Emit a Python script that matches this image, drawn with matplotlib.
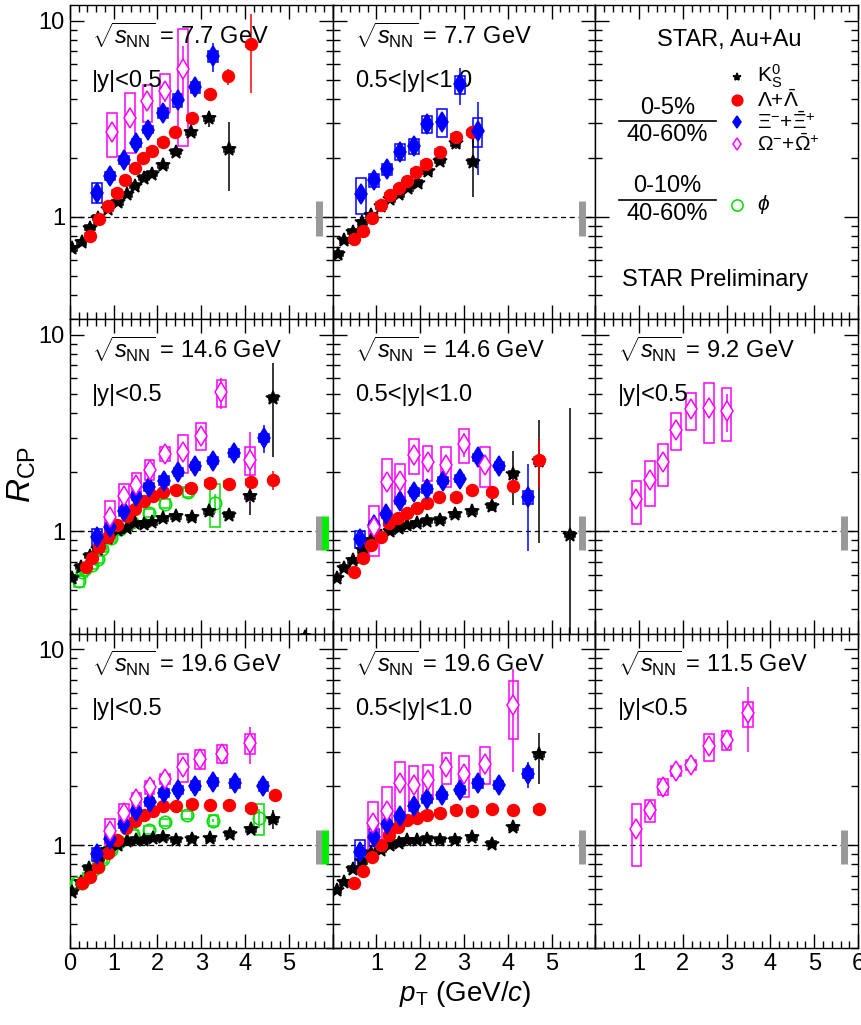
import matplotlib
matplotlib.use('Agg')
import matplotlib.pyplot as plt
from matplotlib.patches import Rectangle
from matplotlib.ticker import FixedLocator, FuncFormatter, MultipleLocator, NullFormatter
import numpy as np

plt.rcParams['font.family'] = ['Liberation Sans', 'DejaVu Sans']
plt.rcParams['mathtext.fontset'] = 'custom'
plt.rcParams['mathtext.rm'] = 'Liberation Sans'
plt.rcParams['mathtext.it'] = 'Liberation Sans:italic'
plt.rcParams['mathtext.bf'] = 'Liberation Sans:bold'

# ---------------- data ----------------
# 7.7 GeV |y|<0.5
k0_77a_pt = [0.05, 0.27, 0.46, 0.65, 0.88, 1.10, 1.31, 1.48, 1.69, 1.88, 2.13, 2.42, 2.77, 3.18, 3.64]
k0_77a_r = [0.69, 0.74, 0.88, 0.99, 1.10, 1.19, 1.30, 1.44, 1.58, 1.66, 1.83, 2.15, 2.70, 3.18, 2.21]
k0_77a_e = [0, 0, 0, 0, 0, 0, 0, 0, 0, 0, 0, 0, 0, 0.3, 0.85]
la_77a_pt = [0.46, 0.67, 0.87, 1.08, 1.27, 1.48, 1.67, 1.88, 2.13, 2.41, 2.78, 3.19, 3.62, 4.14]
la_77a_r = [0.80, 0.97, 1.13, 1.33, 1.55, 1.77, 1.99, 2.17, 2.42, 2.70, 3.19, 4.21, 5.20, 7.56]
la_77a_e = [0, 0, 0, 0, 0, 0, 0, 0, 0, 0, 0, 0.1, 0.5, 3.3]
xi_77a_pt = [0.62, 0.92, 1.23, 1.52, 1.79, 2.13, 2.46, 2.87, 3.27]
xi_77a_r = [1.33, 1.62, 1.95, 2.38, 2.78, 3.39, 3.95, 4.59, 6.59]
xi_77a_e = [0, 0, 0, 0, 0, 0.1, 0.1, 0.2, 1.1]
xi_77a_s = [0.15, 0.08, 0.1, 0.12, 0.12, 0.2, 0.3, 0.3, 0.45]
om_77a_pt = [0.96, 1.37, 1.77, 2.18, 2.58]
om_77a_r = [2.70, 3.19, 3.89, 4.37, 5.70]
om_77a_e = [0.2, 0.3, 0.35, 0.5, 1.7]
om_77a_s = [0.68, 1.08, 0.83, 0.95, 3.4]

# 7.7 GeV 0.5<|y|<1.0
k0_77b_pt = [0.12, 0.27, 0.46, 0.68, 0.88, 1.10, 1.32, 1.52, 1.73, 1.94, 2.17, 2.46, 2.81, 3.21]
k0_77b_r = [0.65, 0.76, 0.84, 0.94, 1.02, 1.13, 1.23, 1.30, 1.40, 1.49, 1.71, 1.93, 2.38, 1.91]
k0_77b_e = [0, 0, 0, 0, 0, 0, 0, 0, 0, 0, 0, 0, 0.15, 0.65]
la_77b_pt = [0.50, 0.69, 0.90, 1.10, 1.31, 1.52, 1.71, 1.91, 2.13, 2.46, 2.81, 3.19]
la_77b_r = [0.77, 0.85, 0.99, 1.15, 1.29, 1.40, 1.52, 1.70, 1.87, 2.15, 2.56, 2.70]
la_77b_e = [0, 0, 0, 0, 0, 0, 0, 0, 0, 0, 0.05, 0.1]
xi_77b_pt = [0.65, 0.95, 1.25, 1.54, 1.86, 2.15, 2.50, 2.91, 3.31]
xi_77b_r = [1.31, 1.54, 1.75, 2.15, 2.29, 2.98, 3.06, 4.73, 2.73]
xi_77b_e = [0, 0, 0, 0, 0, 0, 0, 1.0, 1.1]
xi_77b_s = [0.27, 0.12, 0.11, 0.2, 0.2, 0.3, 0.5, 0.5, 0.45]

# 14.6 GeV |y|<0.5
k0_146a_pt = [0.05, 0.25, 0.46, 0.65, 0.88, 1.10, 1.31, 1.48, 1.69, 1.88, 2.13, 2.42, 2.78, 3.18, 3.64, 4.12, 4.65, 5.38]
k0_146a_r = [0.58, 0.66, 0.75, 0.81, 0.92, 1.01, 1.04, 1.10, 1.09, 1.11, 1.16, 1.19, 1.18, 1.26, 1.21, 1.51, 4.78, 0.29]
k0_146a_e = [0, 0, 0, 0, 0, 0, 0, 0, 0, 0, 0, 0, 0, 0.06, 0.05, 0.3, 2.4, 0.02]
la_146a_pt = [0.38, 0.50, 0.67, 0.88, 1.08, 1.31, 1.48, 1.69, 1.90, 2.13, 2.42, 2.77, 3.19, 3.64, 4.13, 4.65]
la_146a_r = [0.66, 0.73, 0.83, 0.93, 1.07, 1.20, 1.30, 1.43, 1.51, 1.58, 1.63, 1.66, 1.76, 1.74, 1.78, 1.83]
la_146a_e = [0, 0, 0, 0, 0, 0, 0, 0, 0, 0, 0, 0, 0, 0, 0.05, 0.2]
xi_146a_pt = [0.62, 0.92, 1.23, 1.52, 1.81, 2.15, 2.48, 2.87, 3.27, 3.75, 4.44]
xi_146a_r = [0.93, 1.05, 1.26, 1.51, 1.68, 1.81, 2.00, 2.16, 2.29, 2.51, 2.99]
xi_146a_e = [0, 0, 0, 0, 0, 0, 0, 0.05, 0.08, 0.12, 0.5]
xi_146a_s = [0.09, 0.05, 0.06, 0.07, 0.08, 0.09, 0.1, 0.1, 0.1, 0.12, 0.15]
om_146a_pt = [0.92, 1.23, 1.52, 1.82, 2.18, 2.58, 3.00, 3.46, 4.12]
om_146a_r = [1.18, 1.51, 1.71, 2.06, 2.48, 2.53, 3.07, 5.10, 2.31]
om_146a_e = [0.05, 0.1, 0.1, 0.1, 0.1, 0.15, 0.25, 0.9, 0.9]
om_146a_s = [0.25, 0.23, 0.27, 0.24, 0.2, 0.56, 0.47, 0.8, 0.37]
phi_146a_pt = [0.21, 0.28, 0.35, 0.50, 0.64, 0.73, 0.95, 1.15, 1.41, 1.81, 2.18, 2.69, 3.31]
phi_146a_r = [0.56, 0.62, 0.64, 0.67, 0.72, 0.81, 0.92, 1.03, 1.11, 1.24, 1.38, 1.58, 1.39]
phi_146a_e = [0, 0, 0, 0, 0, 0, 0, 0, 0, 0, 0, 0.03, 0.15]
phi_146a_s = [0.04, 0.03, 0.03, 0.03, 0.03, 0.03, 0.04, 0.04, 0.05, 0.06, 0.07, 0.09, 0.34]

# 14.6 GeV 0.5<|y|<1.0
k0_146b_pt = [0.09, 0.27, 0.46, 0.69, 0.88, 1.10, 1.31, 1.52, 1.71, 1.92, 2.15, 2.45, 2.79, 3.19, 3.63, 4.13, 4.71, 5.42]
k0_146b_r = [0.58, 0.65, 0.71, 0.80, 0.90, 0.95, 1.00, 1.04, 1.07, 1.10, 1.13, 1.14, 1.22, 1.26, 1.35, 1.96, 2.27, 0.96]
k0_146b_e = [0, 0, 0, 0, 0, 0, 0, 0, 0, 0, 0, 0, 0.04, 0.05, 0.08, 0.6, 1.4, 3.3]
la_146b_pt = [0.48, 0.69, 0.88, 1.10, 1.29, 1.50, 1.69, 1.92, 2.15, 2.44, 2.81, 3.19, 3.64, 4.13, 4.71]
la_146b_r = [0.62, 0.73, 0.85, 0.93, 1.10, 1.17, 1.24, 1.31, 1.39, 1.49, 1.49, 1.62, 1.58, 1.70, 2.31]
la_146b_e = [0, 0, 0, 0, 0, 0, 0, 0, 0, 0, 0, 0, 0.03, 0.1, 0.65]
xi_146b_pt = [0.63, 0.94, 1.23, 1.54, 1.87, 2.15, 2.52, 2.90, 3.31, 3.81, 4.46]
xi_146b_r = [0.91, 1.07, 1.22, 1.43, 1.58, 1.64, 1.81, 1.85, 2.38, 2.14, 1.49]
xi_146b_e = [0, 0, 0, 0.05, 0.05, 0.05, 0.08, 0.08, 0.08, 0.2, 0.7]
xi_146b_s = [0.09, 0.05, 0.05, 0.06, 0.07, 0.07, 0.08, 0.08, 0.1, 0.1, 0.12]
om_146b_pt = [0.95, 1.25, 1.54, 1.86, 2.17, 2.59, 3.00, 3.48]
om_146b_r = [1.05, 1.78, 1.81, 2.45, 2.26, 2.18, 2.78, 2.18]
om_146b_e = [0.1, 0.1, 0.1, 0.1, 0.15, 0.15, 0.4, 0.2]
om_146b_s = [0.3, 0.55, 0.4, 0.5, 0.45, 0.5, 0.55, 0.5]

# 19.6 GeV |y|<0.5
k0_196a_pt = [0.05, 0.25, 0.44, 0.67, 0.88, 1.10, 1.31, 1.50, 1.69, 1.90, 2.13, 2.42, 2.78, 3.21, 3.65, 4.14, 4.65]
k0_196a_r = [0.58, 0.65, 0.77, 0.86, 0.95, 1.01, 1.05, 1.07, 1.07, 1.09, 1.10, 1.07, 1.08, 1.09, 1.15, 1.21, 1.36]
k0_196a_e = [0, 0, 0, 0, 0, 0, 0, 0, 0, 0, 0, 0, 0, 0, 0.02, 0.04, 0.15]
la_196a_pt = [0.28, 0.46, 0.65, 0.87, 1.08, 1.29, 1.48, 1.69, 1.90, 2.13, 2.42, 2.78, 3.21, 3.64, 4.13, 4.69]
la_196a_r = [0.64, 0.69, 0.78, 0.91, 1.07, 1.23, 1.34, 1.43, 1.49, 1.58, 1.58, 1.63, 1.60, 1.60, 1.55, 1.80]
la_196a_e = [0, 0, 0, 0, 0, 0, 0, 0, 0, 0, 0, 0, 0, 0, 0.03, 0.05]
xi_196a_pt = [0.62, 0.92, 1.23, 1.52, 1.82, 2.15, 2.48, 2.87, 3.28, 3.77, 4.42]
xi_196a_r = [0.90, 1.08, 1.28, 1.49, 1.66, 1.85, 1.92, 2.02, 2.10, 2.07, 2.00]
xi_196a_e = [0, 0, 0, 0, 0, 0.05, 0.05, 0.05, 0.06, 0.06, 0.1]
xi_196a_s = [0.07, 0.05, 0.06, 0.07, 0.08, 0.09, 0.09, 0.1, 0.1, 0.1, 0.1]
om_196a_pt = [0.92, 1.23, 1.52, 1.82, 2.18, 2.58, 2.98, 3.48, 4.12]
om_196a_r = [1.18, 1.47, 1.72, 1.98, 2.18, 2.51, 2.76, 2.94, 3.31]
om_196a_e = [0.1, 0.05, 0.05, 0.05, 0.05, 0.1, 0.15, 0.2, 0.7]
om_196a_s = [0.18, 0.15, 0.14, 0.15, 0.13, 0.4, 0.3, 0.3, 0.4]
phi_196a_pt = [0.15, 0.27, 0.41, 0.54, 0.64, 0.75, 0.95, 1.12, 1.44, 1.81, 2.18, 2.67, 3.28, 4.32]
phi_196a_r = [0.64, 0.64, 0.69, 0.75, 0.78, 0.85, 0.95, 1.04, 1.15, 1.20, 1.31, 1.43, 1.34, 1.38]
phi_196a_e = [0, 0, 0, 0, 0, 0, 0, 0, 0, 0, 0, 0, 0.03, 0.15]
phi_196a_s = [0.03, 0.03, 0.03, 0.03, 0.03, 0.04, 0.04, 0.04, 0.05, 0.05, 0.06, 0.07, 0.09, 0.25]

# 19.6 GeV 0.5<|y|<1.0
k0_196b_pt = [0.09, 0.27, 0.46, 0.68, 0.88, 1.10, 1.31, 1.52, 1.71, 1.92, 2.15, 2.45, 2.79, 3.19, 3.63, 4.13, 4.71]
k0_196b_r = [0.59, 0.65, 0.76, 0.83, 0.92, 0.95, 1.01, 1.03, 1.06, 1.06, 1.08, 1.07, 1.07, 1.10, 1.02, 1.24, 2.91]
k0_196b_e = [0, 0, 0, 0, 0, 0, 0, 0, 0, 0, 0, 0, 0, 0.02, 0.03, 0.06, 0.85]
la_196b_pt = [0.48, 0.69, 0.90, 1.10, 1.28, 1.50, 1.71, 1.92, 2.15, 2.45, 2.81, 3.19, 3.64, 4.13, 4.71]
la_196b_r = [0.64, 0.74, 0.87, 1.00, 1.13, 1.24, 1.35, 1.38, 1.43, 1.47, 1.52, 1.50, 1.53, 1.52, 1.53]
la_196b_e = [0, 0, 0, 0, 0, 0, 0, 0, 0, 0, 0, 0, 0, 0.02, 0.05]
xi_196b_pt = [0.63, 0.94, 1.25, 1.54, 1.85, 2.15, 2.50, 2.92, 3.32, 3.79, 4.46]
xi_196b_r = [0.93, 1.10, 1.28, 1.41, 1.58, 1.73, 1.80, 1.92, 2.07, 2.04, 2.32]
xi_196b_e = [0, 0, 0, 0, 0, 0.05, 0.05, 0.05, 0.06, 0.08, 0.35]
xi_196b_s = [0.14, 0.11, 0.06, 0.07, 0.08, 0.08, 0.08, 0.09, 0.1, 0.1, 0.12]
om_196b_pt = [0.92, 1.25, 1.54, 1.85, 2.18, 2.60, 3.00, 3.48, 4.13]
om_196b_r = [1.30, 1.49, 2.07, 2.04, 2.15, 2.51, 2.32, 2.61, 5.17]
om_196b_e = [0.15, 0.1, 0.1, 0.1, 0.1, 0.15, 0.15, 0.3, 2.8]
om_196b_s = [0.36, 0.5, 0.6, 0.5, 0.43, 0.45, 0.55, 0.55, 1.7]

# 9.2 GeV |y|<0.5
om_92_pt = [0.94, 1.25, 1.55, 1.85, 2.19, 2.59, 3.00]
om_92_r = [1.45, 1.82, 2.24, 3.29, 4.18, 4.26, 4.12]
om_92_e = [0.1, 0.1, 0.1, 0.15, 0.2, 0.5, 0.9]
om_92_s = [0.36, 0.47, 0.54, 0.7, 0.89, 1.43, 1.23]

# 11.5 GeV |y|<0.5
om_115_pt = [0.94, 1.25, 1.55, 1.85, 2.19, 2.59, 3.00, 3.48]
om_115_r = [1.21, 1.51, 1.99, 2.40, 2.58, 3.21, 3.45, 4.71]
om_115_e = [0.05, 0.05, 0.05, 0.05, 0.05, 0.1, 0.2, 1.7]
om_115_s = [0.42, 0.2, 0.18, 0.15, 0.15, 0.5, 0.4, 0.7]

k0_sys = 0.03   # relative
la_sys = 0.03   # relative
norm_unc = 0.2  # Ncoll normalisation band

# ---------------- styles ----------------
STY = {
    'k0': dict(marker='*', color='black', ms=10, mfc='black'),
    'la': dict(marker='o', color='red', ms=8.5, mfc='red'),
    'xi': dict(marker='d', color='blue', ms=10, mfc='blue'),
    'om': dict(marker='d', color='#ff00ff', ms=10, mfc='white'),
    'phi': dict(marker='o', color='#00e000', ms=9, mfc='none'),
}


def draw(ax, kind, pt, r, e, s, rel=False, hw=0.11):
    st = STY[kind]
    pt = np.asarray(pt)
    r = np.asarray(r)
    s = np.asarray(s) * (r if rel else 1.0) * np.ones_like(r)
    for x, y, d in zip(pt, r, s):
        ax.add_patch(Rectangle((x - hw, y - d), 2 * hw, 2 * d, fill=False,
                               ec=st['color'], lw=1.1, zorder=2))
    ax.errorbar(pt, r, yerr=e, fmt='none', ecolor=st['color'], elinewidth=1.1,
                capsize=0, zorder=3)
    ax.plot(pt, r, ls='none', marker=st['marker'], color=st['color'],
            mfc=st['mfc'], mec=st['color'], ms=st['ms'], mew=1.1, zorder=4)


fig, axes = plt.subplots(3, 3, figsize=(8.62, 10.25), dpi=100)
fig.subplots_adjust(left=0.081, right=0.9954, top=0.995, bottom=0.0751, wspace=0, hspace=0)

for i in range(3):
    for j in range(3):
        ax = axes[i, j]
        ax.set_yscale('log')
        ax.set_xlim(0, 6)
        ax.set_ylim(0.3, 12)
        if not (i == 0 and j == 2):
            ax.axhline(1, color='black', lw=0.9, ls=(0, (4, 3)), zorder=1)
        ax.yaxis.set_major_locator(FixedLocator([1, 10]))
        ax.yaxis.set_minor_locator(FixedLocator([0.3, 0.4, 0.5, 0.6, 0.7, 0.8, 0.9,
                                                 2, 3, 4, 5, 6, 7, 8, 9]))
        ax.yaxis.set_minor_formatter(NullFormatter())
        ax.xaxis.set_major_locator(MultipleLocator(1))
        ax.xaxis.set_minor_locator(MultipleLocator(0.2))
        ax.tick_params(which='both', direction='in', top=True, right=True, width=1,
                       labelsize=17)
        ax.tick_params(which='major', length=10)
        ax.tick_params(which='minor', length=5)
        for sp in ax.spines.values():
            sp.set_linewidth(1)

        def fx(v, p, j=j):
            v = int(round(v))
            if v == 0 and j > 0:
                return ''
            if v == 6 and j < 2:
                return ''
            return str(v)
        ax.xaxis.set_major_formatter(FuncFormatter(fx))
        ax.yaxis.set_major_formatter(FuncFormatter(lambda v, p: '%g' % v))
        if i < 2:
            ax.tick_params(labelbottom=False)
        if j > 0:
            ax.tick_params(labelleft=False)


def labels(ax, energy, rap):
    ax.text(0.085, 0.905, r'$\sqrt{s_{\rm NN}}$ = %s GeV' % energy, fontsize=17,
            transform=ax.transAxes, ha='left', va='center')
    ax.text(0.085, 0.76, rap, fontsize=17, transform=ax.transAxes, ha='left', va='center')


def norm_bar(ax, with_phi=False):
    ax.plot([5.69, 5.69], [1 - norm_unc, 1 + norm_unc], color='#999999', lw=5,
            solid_capstyle='butt', zorder=5)
    if with_phi:
        ax.plot([5.82, 5.82], [1 - norm_unc, 1 + norm_unc], color='#00ee00', lw=5,
                solid_capstyle='butt', zorder=5)


# row 1
ax = axes[0, 0]
draw(ax, 'k0', k0_77a_pt, k0_77a_r, k0_77a_e, k0_sys, rel=True)
draw(ax, 'la', la_77a_pt, la_77a_r, la_77a_e, la_sys, rel=True)
draw(ax, 'xi', xi_77a_pt, xi_77a_r, xi_77a_e, xi_77a_s)
draw(ax, 'om', om_77a_pt, om_77a_r, om_77a_e, om_77a_s)
labels(ax, '7.7', '|y|<0.5')
norm_bar(ax)

ax = axes[0, 1]
draw(ax, 'k0', k0_77b_pt, k0_77b_r, k0_77b_e, k0_sys, rel=True)
draw(ax, 'la', la_77b_pt, la_77b_r, la_77b_e, la_sys, rel=True)
draw(ax, 'xi', xi_77b_pt, xi_77b_r, xi_77b_e, xi_77b_s)
labels(ax, '7.7', '0.5<|y|<1.0')
norm_bar(ax)

# legend panel
ax = axes[0, 2]
T = ax.transAxes
ax.text(0.51, 0.889, 'STAR, Au+Au', fontsize=17, transform=T, ha='center', va='center')
leg = [('k0', r'K$^0_{\rm S}$', 0.772), ('la', r'$\Lambda$+$\bar{\Lambda}$', 0.697),
       ('xi', r'$\Xi^{-}$+$\bar{\Xi}^{+}$', 0.627), ('om', r'$\Omega^{-}$+$\bar{\Omega}^{+}$', 0.557),
       ('phi', r'$\phi$', 0.365)]
for kind, lab, yy in leg:
    st = STY[kind]
    ms = st['ms'] * (0.6 if kind in ('k0', 'xi', 'om') else 0.9)
    ax.plot([0.538], [yy], transform=T, ls='none', marker=st['marker'], color=st['color'],
            mfc=st['mfc'], mec=st['color'], ms=ms, mew=1.1, clip_on=False)
    ax.text(0.615, yy, lab, fontsize=15, transform=T, ha='left', va='center')
for yc, num in [(0.632, '0-5%'), (0.381, '0-10%')]:
    ax.plot([0.09, 0.46], [yc, yc], transform=T, color='black', lw=1.2)
    ax.text(0.275, yc + 0.042, num, fontsize=17, transform=T, ha='center', va='center')
    ax.text(0.275, yc - 0.045, '40-60%', fontsize=17, transform=T, ha='center', va='center')
ax.text(0.454, 0.127, 'STAR Preliminary', fontsize=17, transform=T, ha='center', va='center')

# row 2
ax = axes[1, 0]
draw(ax, 'phi', phi_146a_pt, phi_146a_r, phi_146a_e, phi_146a_s)
draw(ax, 'k0', k0_146a_pt, k0_146a_r, k0_146a_e, k0_sys, rel=True)
draw(ax, 'la', la_146a_pt, la_146a_r, la_146a_e, la_sys, rel=True)
draw(ax, 'xi', xi_146a_pt, xi_146a_r, xi_146a_e, xi_146a_s)
draw(ax, 'om', om_146a_pt, om_146a_r, om_146a_e, om_146a_s)
labels(ax, '14.6', '|y|<0.5')
norm_bar(ax, True)

ax = axes[1, 1]
draw(ax, 'k0', k0_146b_pt, k0_146b_r, k0_146b_e, k0_sys, rel=True)
draw(ax, 'la', la_146b_pt, la_146b_r, la_146b_e, la_sys, rel=True)
draw(ax, 'xi', xi_146b_pt, xi_146b_r, xi_146b_e, xi_146b_s)
draw(ax, 'om', om_146b_pt, om_146b_r, om_146b_e, om_146b_s)
labels(ax, '14.6', '0.5<|y|<1.0')
norm_bar(ax)

ax = axes[1, 2]
draw(ax, 'om', om_92_pt, om_92_r, om_92_e, om_92_s)
labels(ax, '9.2', '|y|<0.5')
norm_bar(ax)

# row 3
ax = axes[2, 0]
draw(ax, 'phi', phi_196a_pt, phi_196a_r, phi_196a_e, phi_196a_s)
draw(ax, 'k0', k0_196a_pt, k0_196a_r, k0_196a_e, k0_sys, rel=True)
draw(ax, 'la', la_196a_pt, la_196a_r, la_196a_e, la_sys, rel=True)
draw(ax, 'xi', xi_196a_pt, xi_196a_r, xi_196a_e, xi_196a_s)
draw(ax, 'om', om_196a_pt, om_196a_r, om_196a_e, om_196a_s)
labels(ax, '19.6', '|y|<0.5')
norm_bar(ax, True)

ax = axes[2, 1]
draw(ax, 'k0', k0_196b_pt, k0_196b_r, k0_196b_e, k0_sys, rel=True)
draw(ax, 'la', la_196b_pt, la_196b_r, la_196b_e, la_sys, rel=True)
draw(ax, 'xi', xi_196b_pt, xi_196b_r, xi_196b_e, xi_196b_s)
draw(ax, 'om', om_196b_pt, om_196b_r, om_196b_e, om_196b_s)
labels(ax, '19.6', '0.5<|y|<1.0')
norm_bar(ax)

ax = axes[2, 2]
draw(ax, 'om', om_115_pt, om_115_r, om_115_e, om_115_s)
labels(ax, '11.5', '|y|<0.5')
norm_bar(ax)

fig.text(0.025, 0.537, r'$R_{\rm CP}$', fontsize=24, rotation=90, ha='center', va='center')
fig.text(0.54, 0.03, r'$p_{\rm T}$ (GeV/$c$)', fontsize=20, ha='center', va='center')

fig.savefig('out.png', dpi=100)
